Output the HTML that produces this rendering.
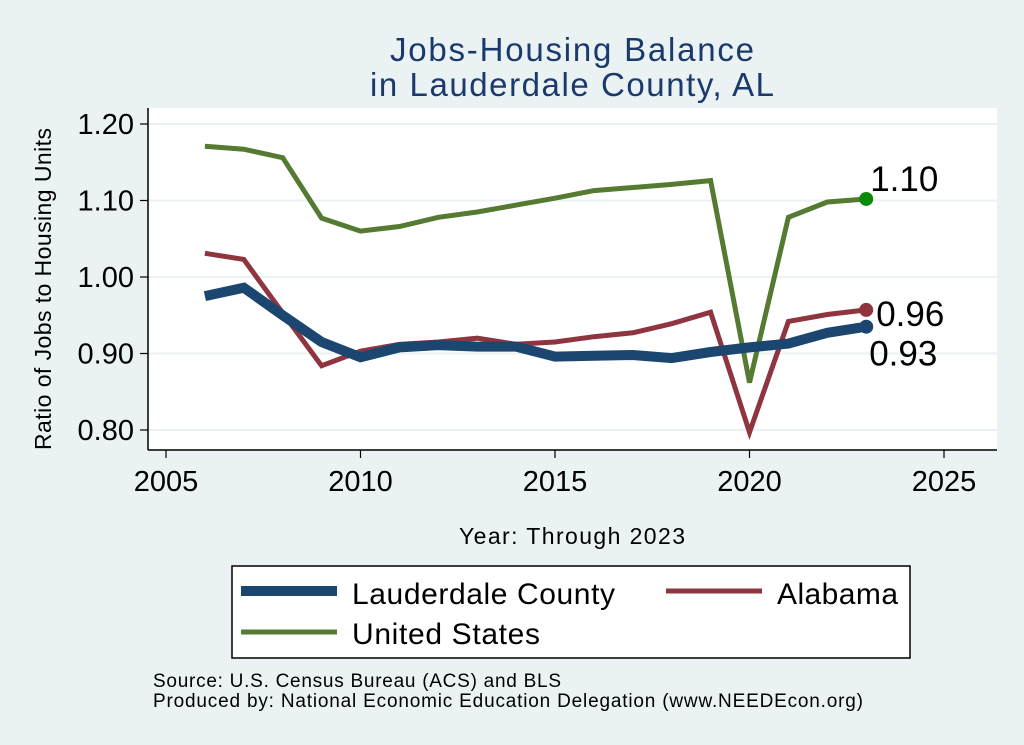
<!DOCTYPE html>
<html><head><meta charset="utf-8"><style>
html,body{margin:0;padding:0;background:#eaf2f3;}
svg{display:block;font-family:"Liberation Sans",Arial,sans-serif;}
</style></head><body>
<svg id="chart" width="1024" height="745" viewBox="0 0 1024 745">
<rect x="0" y="0" width="1024" height="745" fill="#eaf2f3"/>
<text x="572" y="61" font-size="33" fill="#1a3a6b" text-anchor="middle" textLength="364">Jobs-Housing Balance</text>
<text x="572" y="96" font-size="33" fill="#1a3a6b" text-anchor="middle" textLength="404">in Lauderdale County, AL</text>
<rect x="148" y="108" width="849" height="342" fill="#ffffff"/>
<g id="grid"></g>
<g id="axes"></g>
<g id="series"></g>
<text x="51" y="289" font-size="23" fill="#000" text-anchor="middle" textLength="322" transform="rotate(-90 51 289)">Ratio of Jobs to Housing Units</text>
<text x="572" y="544" font-size="23" fill="#000" text-anchor="middle" textLength="226">Year: Through 2023</text>
<g>
<rect x="232" y="566" width="678" height="92" fill="#fff" stroke="#000" stroke-width="1.5"/>
<line x1="241" y1="591" x2="337" y2="591" stroke="#1a4670" stroke-width="10"/>
<text x="352" y="604" font-size="30" textLength="263">Lauderdale County</text>
<line x1="666" y1="591" x2="762" y2="591" stroke="#8f3540" stroke-width="5"/>
<text x="777" y="604" font-size="30" textLength="121">Alabama</text>
<line x1="241" y1="632" x2="337" y2="632" stroke="#557a32" stroke-width="5"/>
<text x="352" y="644" font-size="30" textLength="188">United States</text>
</g>
<text x="153" y="687" font-size="19" textLength="408">Source: U.S. Census Bureau (ACS) and BLS</text>
<text x="153" y="707" font-size="19" textLength="710">Produced by: National Economic Education Delegation (www.NEEDEcon.org)</text>
</svg>
<script>
const years = [2006,2007,2008,2009,2010,2011,2012,2013,2014,2015,2016,2017,2018,2019,2020,2021,2022,2023];
const countyValues = [0.975,0.986,0.950,0.915,0.895,0.908,0.911,0.909,0.909,0.896,0.897,0.898,0.894,0.902,0.908,0.913,0.927,0.935];
const alabamaValues = [1.031,1.023,0.953,0.884,0.903,0.912,0.915,0.920,0.912,0.915,0.922,0.927,0.939,0.954,0.797,0.942,0.951,0.957];
const usValues = [1.171,1.167,1.156,1.077,1.060,1.066,1.078,1.085,1.094,1.103,1.113,1.117,1.121,1.126,0.862,1.078,1.098,1.102];
const xTicks = [2005,2010,2015,2020,2025];
const yTicks = [0.80,0.90,1.00,1.10,1.20];
const endLabels = ["0.93","0.96","1.10"];

const NS="http://www.w3.org/2000/svg";
const xS = v => 166 + (v-2005)*38.9;
const yS = v => 430 - (v-0.80)*765;
function mk(tag, attrs, parent){const e=document.createElementNS(NS,tag);for(const k in attrs)e.setAttribute(k,attrs[k]);parent.appendChild(e);return e;}
const grid=document.getElementById('grid'), axes=document.getElementById('axes'), series=document.getElementById('series');

yTicks.forEach(t=>{
  const g=mk('line',{x1:148,x2:997,y1:yS(t),y2:yS(t),stroke:'#eaf2f3','stroke-width':2},grid);
  
  
  const tk=mk('line',{x1:140,x2:148,y1:yS(t),y2:yS(t),stroke:'#000','stroke-width':1.2},axes);
  
  
  const tx=mk('text',{x:134,y:yS(t)+10,'font-size':29,'text-anchor':'end'},axes);
  tx.textContent=t.toFixed(2);
  
  
});
xTicks.forEach(t=>{
  const tk=mk('line',{x1:xS(t),x2:xS(t),y1:450,y2:458,stroke:'#000','stroke-width':1.2},axes);
  
  
  const tx=mk('text',{x:xS(t),y:491,'font-size':29,'text-anchor':'middle'},axes);
  tx.textContent=t;
  
  
});
const ya=mk('line',{x1:148,x2:148,y1:108,y2:450,stroke:'#000','stroke-width':1.5},axes);


const xa=mk('line',{x1:148,x2:997,y1:450,y2:450,stroke:'#000','stroke-width':1.5},axes);



function drawSeries(vals,color,w,name,dotColor,label,lx,ly){
  const d=vals.map((v,i)=>xS(years[i]).toFixed(1)+','+yS(v).toFixed(1)).join(' ');
  const p=mk('polyline',{points:d,fill:'none',stroke:color,'stroke-width':w,'stroke-linejoin':'miter'},series);
  
  
  const n=vals.length-1;
  const c=mk('circle',{cx:xS(years[n]),cy:yS(vals[n]),r:7,fill:dotColor},series);
  
  
  const t=mk('text',{x:xS(years[n])+lx,y:yS(vals[n])+ly,'font-size':35},series);
  t.textContent=label;
  
  
}
drawSeries(usValues,'#557a32',5,'us','#0a8a0a',endLabels[2],4,-8);
drawSeries(alabamaValues,'#8f3540',5,'alabama','#8f3540',endLabels[1],10,16);
drawSeries(countyValues,'#1a4670',10,'county','#1a4670',endLabels[0],3,39);
</script>
</body></html>
